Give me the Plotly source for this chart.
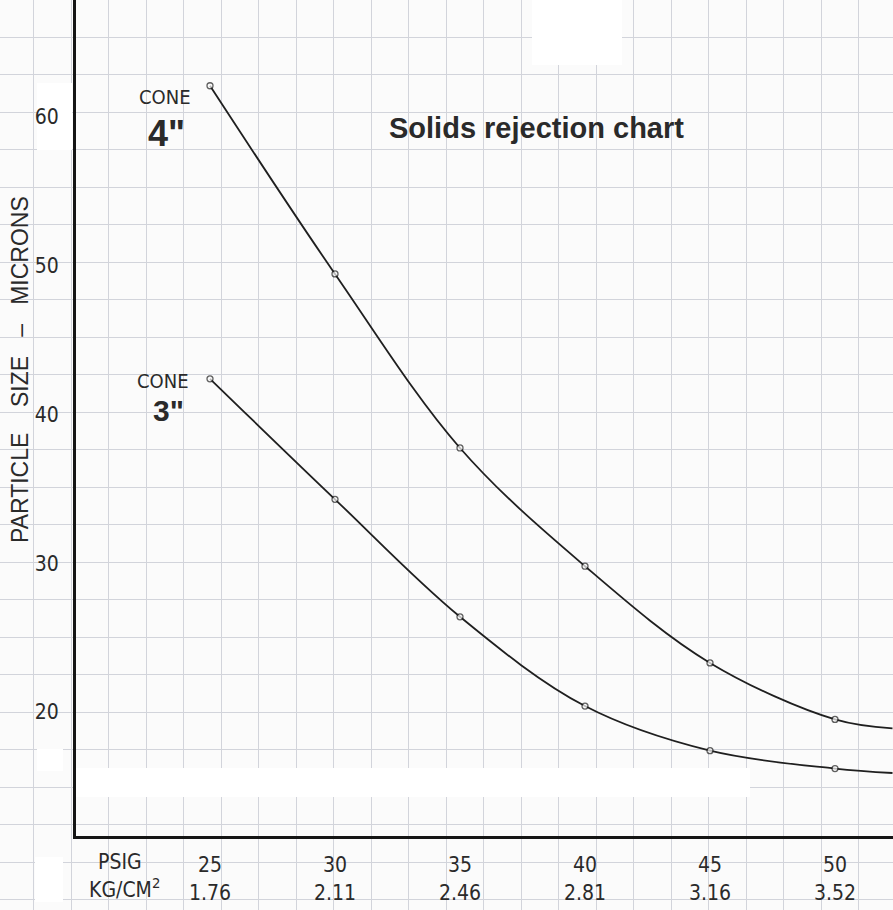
import plotly.graph_objects as go

# ---- data ----
psig = [25, 30, 35, 40, 45, 50, 52.3]
kg_cm2 = ["1.76", "2.11", "2.46", "2.81", "3.16", "3.52"]
psig_ticks = [25, 30, 35, 40, 45, 50]
cone4 = [62.1, 49.45, 37.75, 29.8, 23.3, 19.5, 18.9]
cone3 = [42.4, 34.3, 26.4, 20.4, 17.4, 16.2, 15.9]
marker_sizes = [6, 6, 6, 6, 6, 6, 0]
y_ticks = [20, 30, 40, 50, 60]

W, H = 893, 910
NARROW = "Liberation Sans Narrow, DejaVu Sans Condensed, Arial Narrow, sans-serif"
ARIAL = "Liberation Sans, Arial, sans-serif"
INK = "#2a2a2a"
GRID = "#d2d4db"

# pixel layout of the data axes inside the page
ax_left_px, ax_bottom_px = 76, 836
px_per_psig = 25.0
px_per_micron = 14.875
x0_px, y0_px = 210, 117  # pixel of psig 25 / micron 60
x_range = [25 - (x0_px - ax_left_px) / px_per_psig, 25 + (W - x0_px) / px_per_psig]
y_range = [60 - (ax_bottom_px - y0_px) / px_per_micron, 60 + y0_px / px_per_micron]

fig = go.Figure()

# placeholder trace for the graph-paper subplot
fig.add_trace(go.Scatter(x=[0], y=[0], xaxis="x", yaxis="y", mode="markers",
                         marker=dict(size=1, opacity=0), showlegend=False, hoverinfo="skip"))

for name, vals in [('4" cone', cone4), ('3" cone', cone3)]:
    fig.add_trace(go.Scatter(
        x=psig, y=vals, name=name, xaxis="x2", yaxis="y2",
        mode="lines+markers",
        line=dict(color="#1f1f1f", width=1.8, shape="spline", smoothing=1.0),
        marker=dict(size=marker_sizes, symbol="circle", color="#fbfbfb",
                    line=dict(color="#1f1f1f", width=1.3)),
        showlegend=False,
    ))

tick_text = [f"{p}<br>{k}" for p, k in zip(psig_ticks, kg_cm2)]
y_text = [f"{v}" for v in y_ticks]

fig.update_layout(
    width=W, height=H,
    margin=dict(l=0, r=0, t=0, b=0),
    paper_bgcolor="#fbfbfb",
    plot_bgcolor="rgba(0,0,0,0)",
    # graph paper grid covering the whole page
    xaxis=dict(domain=[0, 1], range=[0, W], showgrid=True, gridcolor=GRID, gridwidth=1,
               tick0=33.5, dtick=37.5, showticklabels=False, ticks="", zeroline=False,
               showline=False, fixedrange=True),
    yaxis=dict(domain=[0, 1], range=[H, 0], showgrid=True, gridcolor=GRID, gridwidth=1,
               tick0=37, dtick=37.5, showticklabels=False, ticks="", zeroline=False,
               showline=False, fixedrange=True),
    # data axes
    xaxis2=dict(domain=[ax_left_px / W, 1], range=x_range, anchor="y2",
                tickmode="array", tickvals=psig_ticks, ticktext=tick_text,
                showgrid=False, zeroline=False, ticks="", ticklabelstandoff=8,
                showline=True, linecolor="#151515", linewidth=3,
                tickfont=dict(family=NARROW, size=21, color=INK)),
    yaxis2=dict(domain=[(H - ax_bottom_px) / H, 1], range=y_range, anchor="x2",
                tickmode="array", tickvals=y_ticks, ticktext=y_text,
                showgrid=False, zeroline=False, ticks="", ticklabelstandoff=10,
                showline=True, linecolor="#151515", linewidth=3,
                tickfont=dict(family=NARROW, size=21, color=INK)),
)

# scanner white-out patches (in page-pixel units of the paper subplot)
patches = [(532, 0, 622, 65), (37, 83, 72, 150), (75, 768, 750, 797),
           (37, 749, 63, 771), (35, 857, 63, 902)]
for x0, y0, x1, y1 in patches:
    fig.add_shape(type="rect", xref="x", yref="y", x0=x0, y0=y0, x1=x1, y1=y1,
                  fillcolor="#ffffff", line=dict(width=0), layer="between")

def ann(text, xp, yp, size, family=NARROW, bold=False, angle=0):
    fig.add_annotation(
        text=f"<b>{text}</b>" if bold else text,
        xref="paper", yref="paper", x=xp / W, y=1 - yp / H,
        xanchor="center", yanchor="middle", showarrow=False, textangle=angle,
        font=dict(family=family, size=size, color=INK))

NB = "\u00a0"
ann("CONE", 165, 97, 20)
ann('4"', 166, 133, 36, family=ARIAL, bold=True)
ann("CONE", 163, 381, 20)
ann('3"', 168, 411, 30, family=ARIAL, bold=True)
ann("Solids rejection chart", 536, 128, 29, family=ARIAL, bold=True)
ann(f"PARTICLE{NB*4}SIZE{NB*3}–{NB*3}MICRONS", 20, 370, 23, family=ARIAL, angle=-90)
ann("PSIG", 120, 862, 21)
ann("KG/CM<sup>2</sup>", 124, 888, 21)

fig.write_html(
    "out.html",
    config={"displayModeBar": False},
    post_script="document.body.style.margin='0';document.body.style.padding='0';"
                "document.body.style.overflow='hidden';",
)
